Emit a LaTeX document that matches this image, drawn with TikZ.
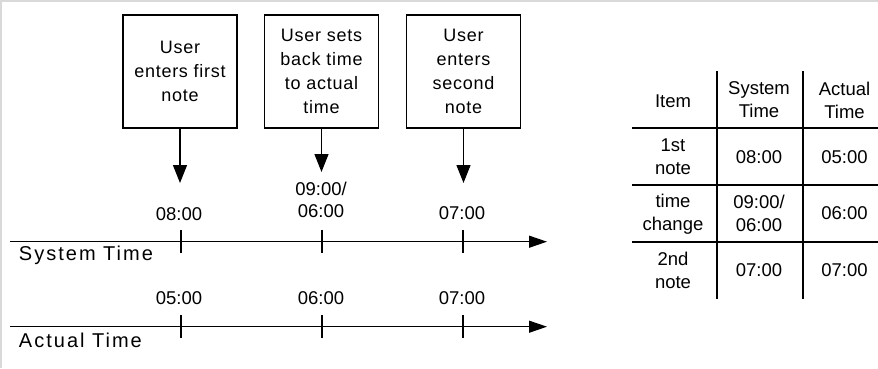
\documentclass[tikz,border=0pt]{standalone}
\usepackage{fontspec}
\setmainfont{Liberation Sans}
\newfontfamily\boxfont[LetterSpace=4]{Liberation Sans}
\newfontfamily\spacedfont[LetterSpace=10]{Liberation Sans}
\usetikzlibrary{arrows.meta}

\begin{document}
\begin{tikzpicture}[x=1pt,y=-1pt,
  every node/.style={inner sep=0pt, outer sep=0pt, text=black},
  stepbox/.style={draw, line width=1.2pt, minimum width=114pt, minimum height=113pt,
    align=center, font=\boxfont\fontsize{18}{24}\selectfont},
  flow/.style={line width=1.2pt, -{Triangle[length=18pt,width=14pt]}},
  axis/.style={line width=1.2pt, -{Triangle[length=18pt,width=12pt]}},
  tick/.style={line width=1.2pt},
  stamp/.style={font=\fontsize{18.5}{22}\selectfont, align=center},
  axislabel/.style={font=\spacedfont\fontsize{20}{24}\selectfont, anchor=base west},
  cell/.style={font=\fontsize{18.5}{23}\selectfont, align=center},
  rule/.style={line width=1.2pt}
]
% canvas and thin frame on the top and left edges
\useasboundingbox (0,0) rectangle (878,368);
\fill[white] (0,0) rectangle (878,368);
\draw[black!15, line width=2pt] (1,368) -- (1,1) -- (878,1);

% event boxes
\node[stepbox] (b1) at (180,71.5) {User\\enters first\\note};
\node[stepbox] (b2) at (321.5,71.5) {User sets\\back time\\to actual\\time};
\node[stepbox] (b3) at (463.5,71.5) {User\\enters\\second\\note};

\coordinate (e1) at (180,183);
\coordinate (e2) at (321.5,172);
\coordinate (e3) at (463.5,183);
\draw[flow] (b1.south) -- (e1);
\draw[flow] (b2.south) -- (e2);
\draw[flow] (b3.south) -- (e3);

% system time axis
\coordinate (sysL) at (10,241.7);
\coordinate (sysR) at (547,241.7);
\draw[axis] (sysL) -- (sysR);
\foreach \x/\n in {181/s1,322/s2,463/s3}{
  \coordinate (\n) at (\x,241.7);
  \draw[tick] ([yshift=11.5pt]\n) -- ([yshift=-11.5pt]\n);
}
\node[stamp, anchor=base] (st1) at (179,220) {08:00};
\node[stamp] (st2) at (321,200) {09:00/\\06:00};
\node[stamp, anchor=base] (st3) at (462,219.5) {07:00};
\node[axislabel] (sysname) at (19,260.5) {System Time};

% actual time axis
\coordinate (actL) at (10,326.7);
\coordinate (actR) at (547,326.7);
\draw[axis] (actL) -- (actR);
\foreach \x/\n in {181/a1,322/a2,463/a3}{
  \coordinate (\n) at (\x,326.7);
  \draw[tick] ([yshift=11.5pt]\n) -- ([yshift=-11.5pt]\n);
}
\node[stamp, anchor=base] (at1) at (179,304.5) {05:00};
\node[stamp, anchor=base] (at2) at (321,304.5) {06:00};
\node[stamp, anchor=base] (at3) at (462,304.5) {07:00};
\node[axislabel] (actname) at (19,347) {Actual Time};

% summary table
\draw[rule] (717,71) -- (717,299);
\draw[rule] (803,71) -- (803,299);
\foreach \y in {128,185,242}{
  \draw[rule] (632,\y) -- (878,\y);
}
\node[cell] (h1) at (673,101) {Item};
\node[cell] (h2) at (759,100) {System\\Time};
\node[cell] (h3) at (844.5,100) {Actual\\Time};
\node[cell] (r11) at (673,156.5) {1st\\note};
\node[cell] (r12) at (759,157) {08:00};
\node[cell] (r13) at (844.5,157) {05:00};
\node[cell] (r21) at (673,214) {time\\change};
\node[cell] (r22) at (759,213.5) {09:00/\\06:00};
\node[cell] (r23) at (844.5,213.5) {06:00};
\node[cell] (r31) at (673,270.5) {2nd\\note};
\node[cell] (r32) at (759,270.5) {07:00};
\node[cell] (r33) at (844.5,270.5) {07:00};
\end{tikzpicture}
\end{document}
